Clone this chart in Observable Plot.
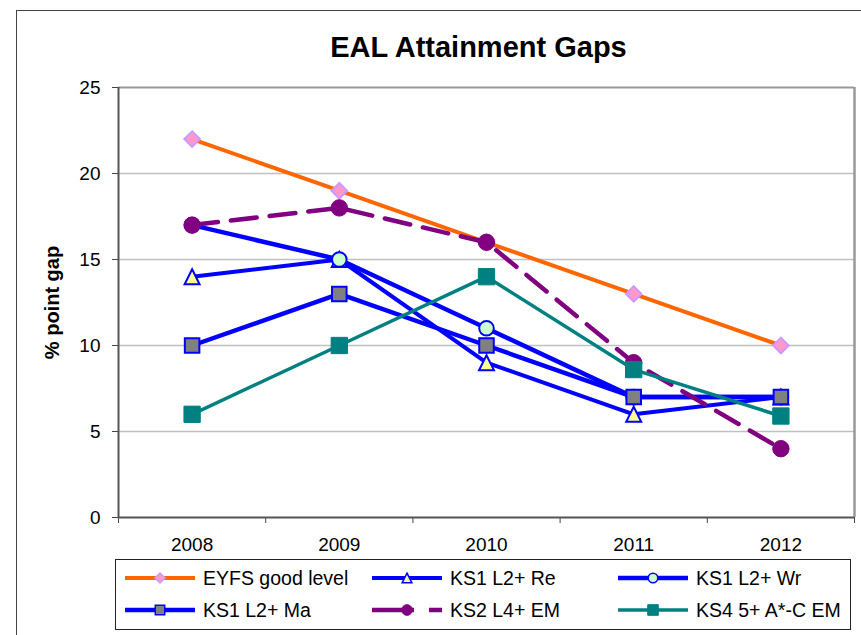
<!DOCTYPE html>
<html>
<head>
<meta charset="utf-8">
<script src="https://cdn.jsdelivr.net/npm/d3@7"></script>
<script src="https://cdn.jsdelivr.net/npm/@observablehq/plot@0.6"></script>
<style>
  html, body { margin: 0; padding: 0; background: #fff; }
  #wrap { position: relative; width: 861px; height: 635px; overflow: hidden; font-family: "Liberation Sans", Arial, sans-serif; }
  #outer { position: absolute; left: 16px; top: 10px; width: 900px; height: 700px; border-left: 1.5px solid #444; border-top: 1.5px solid #444; }
  #chart { position: absolute; left: 0; top: 0; }
  #legend { position: absolute; left: 115px; top: 559px; width: 734px; height: 69px; border: 1px solid #222; background: #fff; }
</style>
</head>
<body>
<div id="wrap">
  <div id="outer"></div>
  <div id="chart"></div>
  <div id="legend"></div>
</div>
<script>
const years = [2008, 2009, 2010, 2011, 2012];
const yTicks = [0, 5, 10, 15, 20, 25];
const seriesNames = ["EYFS good level", "KS1 L2+ Re", "KS1 L2+ Wr", "KS1 L2+ Ma", "KS2 L4+ EM", "KS4 5+ A*-C EM"];
const eyfs  = [22, 19, 16, 13, 10];
const ks1Re = [14, 15, 9, 6, 7];
const ks1Wr = [17, 15, 11, 7, 7];
const ks1Ma = [10, 13, 10, 7, 7];
const ks2EM = [17, 18, 16, 9, 4];
const ks4EM = [6, 10, 14, 8.6, 5.9];

// Box-centred isosceles triangle (base = height), like spreadsheet markers
const boxTriangle = {
  draw(context, size) {
    const h = Math.sqrt(size / Math.PI) * 2.2;
    context.moveTo(0, -h / 2);
    context.lineTo(h / 2, h / 2);
    context.lineTo(-h / 2, h / 2);
    context.closePath();
  }
};

const styles = [
  {line: "#FF6600", width: 4, dash: null, symbol: d3.symbolDiamond2, r: 7, fill: "#FF99CC", stroke: "#CC99FF", sw: 2},
  {line: "#0000FF", width: 4, dash: null, symbol: boxTriangle, r: 6.8, fill: "#FFFF99", stroke: "#0000FF", sw: 2},
  {line: "#0000FF", width: 4.5, dash: null, symbol: d3.symbolCircle, r: 7.3, fill: "#CCFFCC", stroke: "#0000FF", sw: 2},
  {line: "#0000FF", width: 4.5, dash: null, symbol: d3.symbolSquare, r: 8.2, fill: "#808080", stroke: "#0000FF", sw: 2},
  {line: "#800080", width: 4.5, dash: "26,13", symbol: d3.symbolCircle, r: 8.2, fill: "#800080", stroke: "#800080", sw: 1},
  {line: "#008080", width: 3.5, dash: null, symbol: d3.symbolSquare, r: 9.2, fill: "#008080", stroke: "#008080", sw: 1}
];
const seriesValues = [eyfs, ks1Re, ks1Wr, ks1Ma, ks2EM, ks4EM];
const boundaries = [2007.5, 2008.5, 2009.5, 2010.5, 2011.5, 2012.5];

const seriesMarks = seriesValues.flatMap((vals, i) => {
  const s = styles[i];
  const data = years.map((yr, j) => ({year: yr, value: vals[j], series: seriesNames[i]}));
  return [
    Plot.line(data, {x: "year", y: "value", stroke: s.line, strokeWidth: s.width, strokeDasharray: s.dash, strokeLinecap: "round"}),
    Plot.dot(data, {x: "year", y: "value", symbol: s.symbol, r: s.r, fill: s.fill, stroke: s.stroke, strokeWidth: s.sw})
  ];
});

const chart = Plot.plot({
  width: 861,
  height: 635,
  marginLeft: 118,
  marginRight: 7,
  marginTop: 87,
  marginBottom: 118,
  style: {fontFamily: "'Liberation Sans', Arial, sans-serif", color: "#000", background: "transparent"},
  x: {type: "linear", domain: [2007.5, 2012.5]},
  y: {domain: [0, 25]},
  marks: [
    Plot.gridY([5, 10, 15, 20], {stroke: "#c0c0c0", strokeOpacity: 1, strokeWidth: 1.5}),
    Plot.ruleY([25], {stroke: "#999", strokeWidth: 2}),
    Plot.ruleX([2012.5], {stroke: "#999", strokeWidth: 2.5}),
    Plot.axisY({ticks: yTicks, tickSize: 6, tickPadding: 12, fontSize: 19, label: null, stroke: "#444"}),
    Plot.axisY({ticks: [], label: "% point gap", labelArrow: "none", labelAnchor: "center", labelOffset: 74, fontSize: 20, fontWeight: "bold", fill: "#000"}),
    Plot.axisX({ticks: years, tickSize: 0, tickPadding: 20, fontSize: 19, label: null, tickFormat: d => String(d)}),
    Plot.axisX({ticks: boundaries, tickSize: 6, tickFormat: () => "", label: null, stroke: "#444"}),
    Plot.ruleX([2007.5], {stroke: "#555", strokeWidth: 2}),
    Plot.ruleY([0], {stroke: "#555", strokeWidth: 2}),
    ...seriesMarks,
    Plot.text(["EAL Attainment Gaps"], {frameAnchor: "top", dx: -8, dy: -40, lineAnchor: "middle", textAnchor: "middle", fontSize: 29, fontWeight: "bold", fill: "#000"})
  ]
});
document.getElementById("chart").appendChild(chart);

// Legend
const legend = d3.select("#legend").append("svg").attr("width", 734).attr("height", 69)
  .style("font-family", "'Liberation Sans', Arial, sans-serif");
const colX = [9, 256, 502];
const rowY = [18, 50];
seriesNames.forEach((name, i) => {
  const s = styles[i];
  const g = legend.append("g").attr("transform", `translate(${colX[i % 3]},${rowY[Math.floor(i / 3)]})`);
  g.append("line").attr("x1", 0).attr("x2", 70).attr("y1", 0).attr("y2", 0)
    .attr("stroke", s.line).attr("stroke-width", s.width)
    .attr("stroke-dasharray", s.dash ? "42,15" : null);
  const rr = s.r * 0.65;
  g.append("path").attr("transform", "translate(35,0)")
    .attr("d", d3.symbol(s.symbol, Math.PI * rr * rr)())
    .attr("fill", s.fill).attr("stroke", s.stroke).attr("stroke-width", Math.min(s.sw, 1.5));
  g.append("text").attr("x", 78).attr("y", 0).attr("dy", "0.36em")
    .attr("font-size", 19.5).attr("fill", "#000").text(name);
});
</script>
</body>
</html>
